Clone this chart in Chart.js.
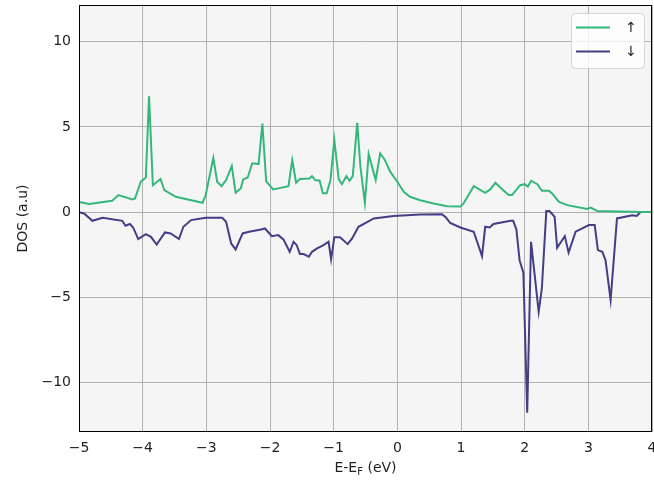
<!DOCTYPE html>
<html>
<head>
<meta charset="utf-8">
<script src="https://cdn.jsdelivr.net/npm/chart.js@4"></script>
<style>
html,body{margin:0;padding:0;background:#fff;}
#wrap{width:654px;height:487px;}
</style>
</head>
<body>
<div id="wrap"><canvas id="c" width="654" height="487"></canvas></div>
<script>
const seriesLabels = ['↑', '↓'];
const xTicks = [-5, -4, -3, -2, -1, 0, 1, 2, 3, 4];
const yTicks = [-10, -5, 0, 5, 10];
const xTitleMain = 'E-E';
const xTitleSub = 'F';
const xTitleEnd = ' (eV)';
const yTitle = 'DOS (a.u)';

const energyUp = [-5, -4.84, -4.48, -4.38, -4.16, -4.12, -4.03, -3.95, -3.9, -3.84, -3.72, -3.66, -3.48, -3.06, -3.01, -2.89, -2.83, -2.76, -2.69, -2.6, -2.54, -2.46, -2.42, -2.35, -2.28, -2.18, -2.12, -2.06, -1.95, -1.71, -1.65, -1.59, -1.53, -1.38, -1.34, -1.29, -1.22, -1.17, -1.11, -1.05, -0.99, -0.92, -0.87, -0.8, -0.75, -0.7, -0.63, -0.58, -0.51, -0.45, -0.34, -0.27, -0.2, -0.11, 0.0, 0.1, 0.2, 0.36, 0.57, 0.78, 0.99, 1.04, 1.2, 1.38, 1.46, 1.54, 1.65, 1.75, 1.8, 1.93, 2.0, 2.05, 2.1, 2.2, 2.27, 2.38, 2.43, 2.54, 2.67, 2.98, 3.04, 3.14, 3.82, 4.0];
const dosUp = [0.6, 0.47, 0.66, 1.0, 0.74, 0.8, 1.78, 2.03, 6.8, 1.58, 1.95, 1.29, 0.9, 0.55, 1.0, 3.19, 1.78, 1.52, 1.88, 2.7, 1.13, 1.39, 1.92, 2.03, 2.86, 2.82, 5.2, 1.8, 1.33, 1.52, 3.05, 1.72, 1.94, 1.97, 2.11, 1.88, 1.84, 1.1, 1.1, 1.88, 4.22, 1.92, 1.64, 2.11, 1.84, 2.11, 5.24, 2.66, 0.55, 3.4, 1.88, 3.44, 3.09, 2.36, 1.78, 1.19, 0.9, 0.7, 0.51, 0.35, 0.33, 0.51, 1.52, 1.13, 1.33, 1.72, 1.33, 1.0, 1.0, 1.58, 1.64, 1.49, 1.84, 1.64, 1.25, 1.25, 1.1, 0.6, 0.41, 0.18, 0.27, 0.06, 0, 0];

const energyDown = [-5, -4.92, -4.79, -4.63, -4.32, -4.27, -4.2, -4.15, -4.07, -3.95, -3.87, -3.78, -3.65, -3.56, -3.43, -3.36, -3.24, -3.01, -2.75, -2.69, -2.61, -2.54, -2.43, -2.33, -2.14, -2.08, -1.97, -1.87, -1.79, -1.69, -1.63, -1.58, -1.53, -1.47, -1.39, -1.34, -1.26, -1.16, -1.08, -1.04, -0.99, -0.9, -0.78, -0.71, -0.61, -0.37, -0.06, 0.36, 0.7, 0.76, 0.83, 0.99, 1.2, 1.33, 1.38, 1.45, 1.51, 1.78, 1.82, 1.87, 1.92, 1.98, 2.04, 2.1, 2.16, 2.22, 2.27, 2.34, 2.39, 2.47, 2.51, 2.63, 2.69, 2.8, 3.01, 3.1, 3.15, 3.22, 3.27, 3.35, 3.45, 3.69, 3.76, 3.82, 4.0];
const dosDown = [0, -0.08, -0.51, -0.33, -0.51, -0.8, -0.7, -0.9, -1.58, -1.29, -1.45, -1.9, -1.19, -1.25, -1.58, -0.86, -0.47, -0.33, -0.33, -0.57, -1.84, -2.19, -1.25, -1.15, -1.02, -0.96, -1.41, -1.35, -1.6, -2.33, -1.74, -1.94, -2.46, -2.46, -2.62, -2.33, -2.13, -1.94, -1.74, -2.77, -1.48, -1.48, -1.88, -1.54, -0.86, -0.37, -0.23, -0.14, -0.12, -0.3, -0.63, -0.9, -1.15, -2.58, -0.86, -0.9, -0.7, -0.51, -0.51, -1.02, -2.82, -3.56, -11.77, -1.74, -3.79, -5.85, -4.48, 0.06, 0.06, -0.27, -2.09, -1.41, -2.38, -1.15, -0.76, -0.76, -2.23, -2.33, -2.82, -5.16, -0.37, -0.18, -0.23, 0, 0];

const colorUp = '#35b779';
const colorDown = '#433e85';
const FONT = '"DejaVu Sans", sans-serif';

const pts = (xs, ys) => xs.map((x, i) => ({x: x, y: ys[i]}));
const fmt = v => String(v).replace('-', '\u2212');

const decor = {
  id: 'decor',
  beforeDraw(chart) {
    const a = chart.chartArea, ctx = chart.ctx;
    ctx.save();
    ctx.fillStyle = '#f5f5f5';
    ctx.fillRect(a.left, a.top, a.right - a.left, a.bottom - a.top);
    ctx.restore();
  },
  afterDatasetsDraw(chart) {
    const a = chart.chartArea, ctx = chart.ctx;
    ctx.save();
    ctx.strokeStyle = '#000';
    ctx.lineWidth = 1;
    ctx.strokeRect(a.left + 0.5, a.top + 0.5, a.right - a.left - 1, a.bottom - a.top - 1);
    ctx.restore();
  },
  afterDraw(chart) {
    const a = chart.chartArea, ctx = chart.ctx;
    ctx.save();
    // legend box
    const bx = a.right - 81, by = a.top + 8, bw = 73, bh = 55;
    ctx.beginPath();
    ctx.roundRect(bx + 0.5, by + 0.5, bw, bh, 4);
    ctx.fillStyle = 'rgba(255,255,255,0.8)';
    ctx.fill();
    ctx.strokeStyle = '#d6d6d6';
    ctx.lineWidth = 1;
    ctx.stroke();
    const ds = chart.data.datasets;
    const rows = [by + 14.5, by + 38.5];
    ds.forEach((d, i) => {
      ctx.beginPath();
      ctx.strokeStyle = d.borderColor;
      ctx.lineWidth = 2;
      ctx.moveTo(bx + 5, rows[i]);
      ctx.lineTo(bx + 39, rows[i]);
      ctx.stroke();
      ctx.fillStyle = '#222';
      ctx.font = '14px ' + FONT;
      ctx.textAlign = 'center';
      ctx.textBaseline = 'middle';
      ctx.fillText(d.label, bx + 60, rows[i] + 1);
    });
    // y title
    ctx.save();
    ctx.translate(23, (a.top + a.bottom) / 2);
    ctx.rotate(-Math.PI / 2);
    ctx.font = '14px ' + FONT;
    ctx.fillStyle = '#222';
    ctx.textAlign = 'center';
    ctx.textBaseline = 'middle';
    ctx.fillText(yTitle, 0, 0);
    ctx.restore();
    // x title with subscript
    ctx.font = '14px ' + FONT;
    const w1 = ctx.measureText(xTitleMain).width;
    const w3 = ctx.measureText(xTitleEnd).width;
    ctx.font = '10px ' + FONT;
    const w2 = ctx.measureText(xTitleSub).width;
    const total = w1 + w2 + w3;
    let x0 = (a.left + a.right) / 2 - total / 2;
    const base = 472;
    ctx.fillStyle = '#222';
    ctx.textAlign = 'left';
    ctx.textBaseline = 'alphabetic';
    ctx.font = '14px ' + FONT;
    ctx.fillText(xTitleMain, x0, base);
    ctx.font = '10px ' + FONT;
    ctx.fillText(xTitleSub, x0 + w1, base + 3);
    ctx.font = '14px ' + FONT;
    ctx.fillText(xTitleEnd, x0 + w1 + w2, base);
    ctx.restore();
  }
};

new Chart(document.getElementById('c'), {
  type: 'line',
  data: {
    datasets: [
      {label: seriesLabels[0], data: pts(energyUp, dosUp), borderColor: colorUp, backgroundColor: colorUp, borderWidth: 2, pointRadius: 0, tension: 0, fill: false},
      {label: seriesLabels[1], data: pts(energyDown, dosDown), borderColor: colorDown, backgroundColor: colorDown, borderWidth: 2, pointRadius: 0, tension: 0, fill: false}
    ]
  },
  options: {
    responsive: false,
    animation: false,
    devicePixelRatio: 1,
    layout: {padding: {left: 0, right: 2, top: 5, bottom: 0}},
    plugins: {legend: {display: false}, tooltip: {enabled: false}},
    scales: {
      x: {
        type: 'linear', min: -5, max: 4,
        afterBuildTicks: s => { s.ticks = xTicks.map(v => ({value: v})); },
        afterFit: s => { s.height = 55; s.paddingLeft = 0; s.paddingRight = 0; },
        grid: {color: '#b0b0b0', lineWidth: 1, drawTicks: false},
        border: {display: false},
        ticks: {autoSkip: false, maxRotation: 0, padding: 8, color: '#222', font: {family: FONT, size: 14}, callback: v => fmt(v)}
      },
      y: {
        type: 'linear', min: -12.9, max: 12.15,
        afterBuildTicks: s => { s.ticks = yTicks.map(v => ({value: v})); },
        afterFit: s => { s.width = 79; s.paddingTop = 0; s.paddingBottom = 0; },
        grid: {color: '#b0b0b0', lineWidth: 1, drawTicks: false},
        border: {display: false},
        ticks: {padding: 8, color: '#222', font: {family: FONT, size: 14}, callback: v => fmt(v)}
      }
    }
  },
  plugins: [decor]
});
</script>
</body>
</html>
